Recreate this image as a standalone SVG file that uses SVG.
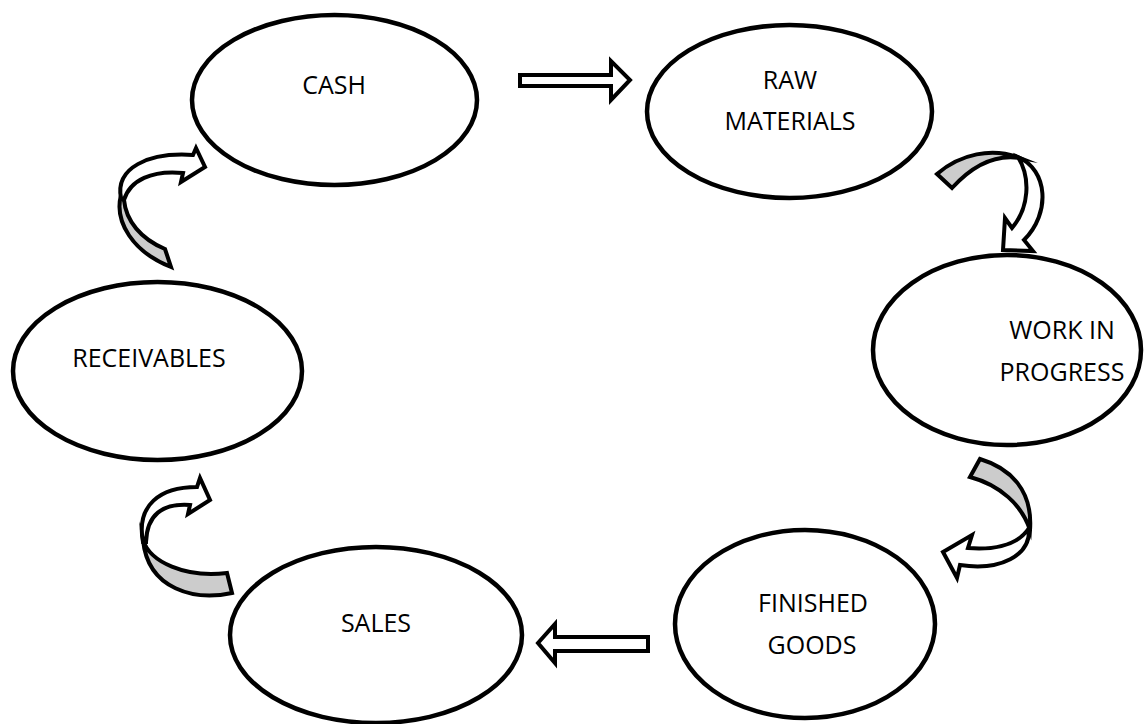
<svg xmlns="http://www.w3.org/2000/svg" width="1144" height="724" viewBox="0 0 1144 724">
<style>
.node ellipse{fill:#fff;stroke:#000;stroke-width:4.5}
.node text{font-family:"Open Sans","Noto Sans",sans-serif;font-size:25px;fill:#000;text-anchor:middle}
.arr{stroke:#000;stroke-width:4;stroke-linejoin:miter;stroke-miterlimit:10}
.w{fill:#fff}
.g{fill:#cccccc}
</style>
<rect width="1144" height="724" fill="#fff"/>
<g id="connectors">
<path class="arr w" d="M520,75 L611,75 L611,61 L630,80 L611,100 L611,86 L520,86 Z"/>
<path class="arr w" d="M648,637 L555,637 L555,624 L538,643 L555,663 L555,651 L648,651 Z"/>
<g id="curve-raw-wip">
<path class="arr g" d="M937,174 C960,154 992,147 1020,158 C995,154 972,166 952,188 Z"/>
<path class="arr w" d="M1018,157 C1048,170 1051,213 1024,240 L1033,251 L1003,250 L1005,218 L1012,228 C1029,208 1031,178 1018,157 Z"/>
</g>
<g id="curve-wip-fg">
<path class="arr g" d="M970,477 L980,459 C1010,468 1033,490 1030,530 C1022,505 1000,485 970,477 Z"/>
<path class="arr w" d="M1029,528 C1031,556 1000,571 960,565 L957,578 L943,552 L972,535 L968,548 C995,550 1018,545 1029,528 Z"/>
</g>
<g id="curve-sales-rec">
<path class="arr g" d="M227,573 L232,593 C195,601 148,590 143,540 C150,562 185,578 227,573 Z"/>
<path class="arr w" d="M143,542 C136,505 160,487 197,487 L200,478 L210,500 L188,514 L190,505 C162,503 147,515 146,542 Z"/>
</g>
<g id="curve-rec-cash">
<path class="arr g" d="M121,195 C114,222 133,252 171,267 L165,249 C141,239 126,221 124,200 Z"/>
<path class="arr w" d="M121,198 C115,168 148,152 193,155 L196,148 L205,167 L181,182 L183,173 C152,170 130,180 124,200 Z"/>
</g>
</g>
<g id="cash" class="node"><ellipse cx="334.5" cy="100" rx="142.5" ry="85"/><text x="334" y="94">CASH</text></g>
<g id="raw-materials" class="node"><ellipse cx="789.5" cy="111.5" rx="142.5" ry="86.5"/><text x="790" y="89">RAW</text><text x="790" y="130">MATERIALS</text></g>
<g id="work-in-progress" class="node"><ellipse cx="1007" cy="350" rx="134" ry="95"/><text x="1062" y="339">WORK IN</text><text x="1062" y="381">PROGRESS</text></g>
<g id="finished-goods" class="node"><ellipse cx="805" cy="624" rx="130" ry="94"/><text x="813" y="612">FINISHED</text><text x="812" y="654">GOODS</text></g>
<g id="sales" class="node"><ellipse cx="376" cy="635" rx="146" ry="88"/><text x="376" y="632">SALES</text></g>
<g id="receivables" class="node"><ellipse cx="157.5" cy="371" rx="144.5" ry="89"/><text x="149" y="367">RECEIVABLES</text></g>
</svg>
